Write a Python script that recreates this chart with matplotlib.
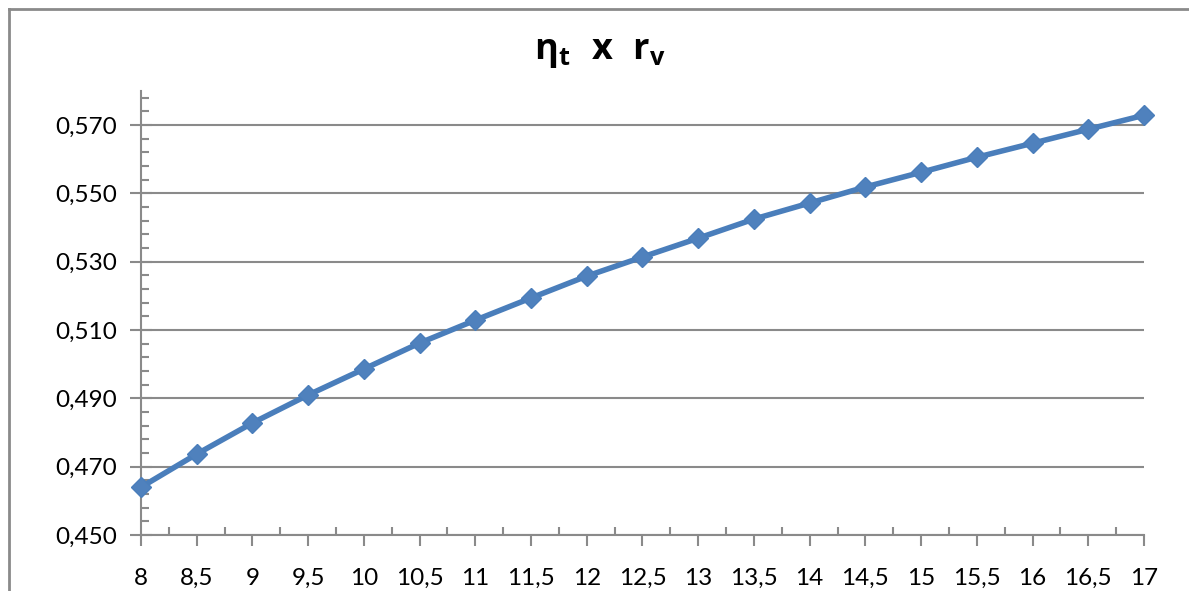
import matplotlib
matplotlib.use("Agg")
import matplotlib.pyplot as plt
from matplotlib.lines import Line2D
from matplotlib.ticker import FixedLocator, FuncFormatter

# Compression ratio r_v and thermal efficiency eta_t
rv = [8, 8.5, 9, 9.5, 10, 10.5, 11, 11.5, 12, 12.5, 13, 13.5, 14, 14.5, 15,
      15.5, 16, 16.5, 17]
eta_t = [0.4640, 0.4737, 0.4828, 0.4910, 0.4986, 0.5062, 0.5129, 0.5194,
         0.5258, 0.5314, 0.5369, 0.5425, 0.5472, 0.5519, 0.5562, 0.5606,
         0.5647, 0.5688, 0.5729]

y_major = [0.450, 0.470, 0.490, 0.510, 0.530, 0.550, 0.570]

plt.rcParams["font.family"] = ["Lato", "DejaVu Sans"]
plt.rcParams["mathtext.fontset"] = "custom"
plt.rcParams["mathtext.bf"] = "Open Sans:bold"
plt.rcParams["mathtext.rm"] = "Open Sans"
plt.rcParams["mathtext.it"] = "Open Sans:italic"

W, H = 1189, 591
fig = plt.figure(figsize=(W / 100, H / 100), dpi=100)

GRAY = "#8a8a8a"
BLUE_LINE = "#4a7ebb"
BLUE_FILL = "#4f81bd"

ax = fig.add_axes([141 / W, 1 - 535 / H, (1144 - 141) / W, (535 - 91) / H])
ax.set_xlim(8, 17)
ax.set_ylim(0.45, 0.58)

for side in ("top", "right"):
    ax.spines[side].set_visible(False)
for side in ("left", "bottom"):
    ax.spines[side].set_color(GRAY)
    ax.spines[side].set_linewidth(1.5)

# y axis: major ticks crossing, minor ticks inside
ax.yaxis.set_major_locator(FixedLocator(y_major))
ax.yaxis.set_minor_locator(FixedLocator(
    [0.45 + 0.004 * i for i in range(1, 33) if i % 5 != 0]))
ax.yaxis.set_major_formatter(FuncFormatter(lambda v, p: f"{v:.3f}".replace(".", ",")))
ax.tick_params(axis="y", which="major", direction="inout", length=16,
               width=1.5, color=GRAY, labelsize=17.5, pad=9)
ax.tick_params(axis="y", which="minor", direction="in", length=6,
               width=1.5, color=GRAY)

# x axis: major ticks outside, minor ticks inside
ax.xaxis.set_major_locator(FixedLocator(rv))
ax.xaxis.set_minor_locator(FixedLocator([x + 0.25 for x in rv[:-1]]))
ax.xaxis.set_major_formatter(FuncFormatter(
    lambda v, p: (f"{v:g}").replace(".", ",")))
ax.tick_params(axis="x", which="major", direction="out", length=8,
               width=1.5, color=GRAY, labelsize=17.5, pad=16)
ax.tick_params(axis="x", which="minor", direction="in", length=6,
               width=1.5, color=GRAY)

ax.grid(axis="y", which="major", color=GRAY, linewidth=1.5)
ax.set_axisbelow(True)

ax.plot(rv, eta_t, color=BLUE_LINE, linewidth=4.0, marker="D",
        markersize=10.5, markerfacecolor=BLUE_FILL, markeredgecolor=BLUE_LINE,
        clip_on=False, zorder=5)

fig.text(600 / W, 1 - 54 / H, r"$\mathbf{η_t\ \ x\ \ r_v}$",
         ha="center", va="center", fontsize=26)

# chart area border
fig.add_artist(Line2D([9 / W, 9 / W], [0, 1 - 9 / H], transform=fig.transFigure,
                      color=GRAY, linewidth=2))
fig.add_artist(Line2D([9 / W, 1], [1 - 9 / H, 1 - 9 / H], transform=fig.transFigure,
                      color=GRAY, linewidth=2))

fig.savefig("out.png", dpi=100)
